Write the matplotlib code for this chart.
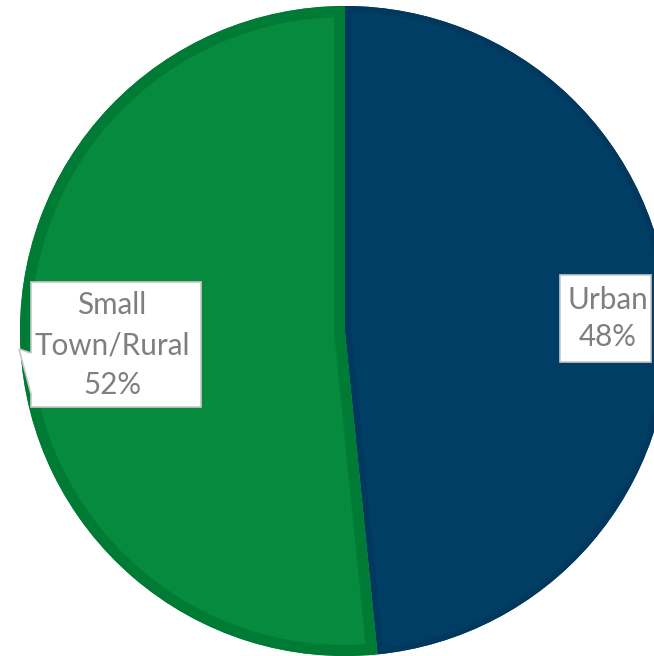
import matplotlib
matplotlib.use('Agg')
import matplotlib.pyplot as plt
from matplotlib.patches import Polygon, Wedge

categories = ["Urban", "Small\nTown/Rural"]
values = [48.4, 51.6]
fill_colors = ["#003E66", "#068A3E"]
edge_colors = ["#00385E", "#007B35"]
band_px = [12, 22]

W, H = 654, 656
cx, cy, R = 345, 331, 325


def px(x, y):
    return ((x - cx) / R, (cy - y) / R)


fig = plt.figure(figsize=(W / 100, H / 100), dpi=100)
ax = fig.add_axes([0, 0, 1, 1])

wedges, _ = ax.pie(values, colors=fill_colors, startangle=90, counterclock=False,
                   radius=1, center=(0, 0))
for w, ec, bw in zip(wedges, edge_colors, band_px):
    w.set_linewidth(0)
    band = Wedge(w.center, w.r, w.theta1, w.theta2, facecolor='none',
                 edgecolor=ec, linewidth=bw * 0.72, transform=ax.transData)
    ax.add_patch(band)
    band.set_clip_path(w.get_path(), ax.transData)

ax.set_aspect('auto')
ax.set_xlim(px(0, 0)[0], px(W, 0)[0])
ax.set_ylim(px(0, H)[1], px(0, 0)[1])
ax.axis('off')

# label boxes (callouts)
box_small = [px(31, 282), px(201, 282), px(201, 407), px(31, 407),
             px(31, 394), px(19, 349), px(31, 353)]
box_urban = [px(560, 275), px(651, 275), px(651, 362), px(560, 362)]
for pts in (box_urban, box_small):
    ax.add_patch(Polygon(pts, closed=True, facecolor='white', edgecolor='#C8C8C8',
                         linewidth=1.2, zorder=5))

anchors = [px(608, 346), px(112, 394)]
spacings = [1.39, 1.52]
total = sum(values)
for cat, v, (tx, ty), ls in zip(categories, values, anchors, spacings):
    ax.text(tx, ty, f"{cat}\n{round(v / total * 100)}%", ha='center', va='baseline',
            fontsize=21.3, color='#7F7F7F', family=['Lato', 'DejaVu Sans'],
            linespacing=ls, zorder=6)

fig.savefig('out.png', dpi=100)
